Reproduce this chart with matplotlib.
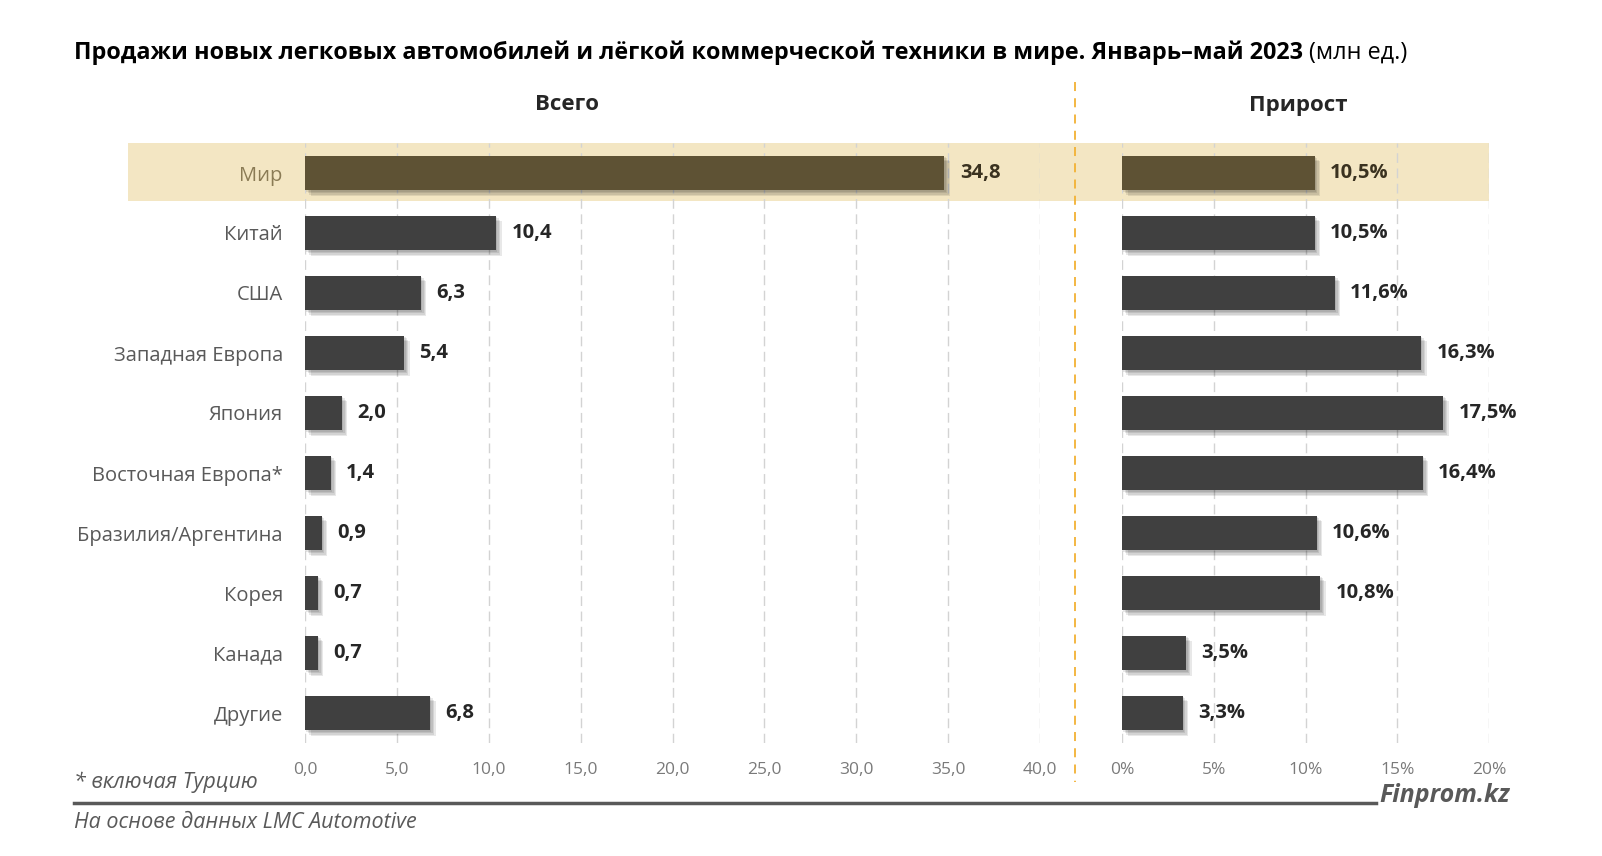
import matplotlib.pyplot as plt
from matplotlib.patches import Rectangle
import matplotlib.patheffects as pe

plt.rcParams['font.family'] = ['Open Sans', 'DejaVu Sans']

regions = ["Мир", "Китай", "США", "Западная Европа", "Япония",
           "Восточная Европа*", "Бразилия/Аргентина", "Корея", "Канада", "Другие"]
total = [34.8, 10.4, 6.3, 5.4, 2.0, 1.4, 0.9, 0.7, 0.7, 6.8]
growth = [10.5, 10.5, 11.6, 16.3, 17.5, 16.4, 10.6, 10.8, 3.5, 3.3]
total_ticks = [0, 5, 10, 15, 20, 25, 30, 35, 40]
growth_ticks = [0, 5, 10, 15, 20]

W, H = 1602, 856
fig = plt.figure(figsize=(W / 100, H / 100), dpi=100)
fig.patch.set_facecolor("white")


def fx(px):
    return px / W


def fy(py):
    return 1 - py / H


BAR = "#404040"
HL_BAR = "#5e5234"
HL_BG = "#f3e6c3"
GRAY = "#7a7a7a"
TXT = "#262626"

# axes in pixel coordinates (top 143, bottom 743)
ax1 = fig.add_axes([fx(305), fy(743), (1040 - 305) / W, 600 / H])
ax2 = fig.add_axes([fx(1122), fy(743), (1489 - 1122) / W, 600 / H])

# highlight band for the world row
fig.patches.append(Rectangle((fx(128), fy(201)), (1489 - 128) / W, 58 / H,
                             transform=fig.transFigure, facecolor=HL_BG,
                             edgecolor="none", zorder=-1))

# soft shadow under the bars
shadow = [pe.SimplePatchShadow(offset=(k, -k), shadow_rgbFace="black", alpha=0.09)
          for k in (1, 2, 3, 4)] + [pe.Normal()]

y = list(range(len(regions)))
colors = [HL_BAR] + [BAR] * (len(regions) - 1)

for ax, vals, ticks, xmax, fmt in [
    (ax1, total, total_ticks, 40, lambda v: f"{v:.1f}".replace(".", ",")),
    (ax2, growth, growth_ticks, 20, lambda v: f"{v:.1f}%".replace(".", ",")),
]:
    ax.set_facecolor("none")
    bars = ax.barh(y, vals, height=0.58, color=colors, zorder=3)
    for b in bars:
        b.set_path_effects(shadow)
    for i, v in enumerate(vals):
        ax.annotate(fmt(v), (v, i), xytext=(11, 0), textcoords="offset points",
                    va="center", ha="left", fontsize=14.5, fontweight="bold",
                    color="#3a3220" if i == 0 else TXT)
    ax.set_xlim(0, xmax)
    ax.set_ylim(len(regions) - 0.5, -0.5)
    ax.set_xticks(ticks)
    for t in ticks:
        ax.axvline(t, color="#d3d3d3", lw=1, ls=(0, (7, 4)), zorder=1)
    for s in ax.spines.values():
        s.set_visible(False)
    ax.tick_params(axis="x", length=0, pad=13.5, labelsize=12.5, labelcolor=GRAY)

ax1.set_xticklabels([f"{t:.1f}".replace(".", ",") for t in total_ticks])
ax2.set_xticklabels([f"{t}%" for t in growth_ticks])

ax1.set_yticks(y)
ax1.set_yticklabels(regions)
ax1.tick_params(axis="y", length=0, pad=16, labelsize=14.5, labelcolor="#595959")
ax1.get_yticklabels()[0].set_color("#8a7b55")
ax2.set_yticks([])

# divider
fig.add_artist(plt.Line2D([fx(1075), fx(1075)], [fy(82), fy(782)],
                          transform=fig.transFigure, color="#f2b134", lw=1.3,
                          ls=(0, (5, 4))))

# headers
fig.text(fx(567), fy(105), "Всего", ha="center", va="center",
         fontsize=16, fontweight="bold", color=TXT)
fig.text(fx(1298), fy(105), "Прирост", ha="center", va="center",
         fontsize=16, fontweight="bold", color=TXT)

# title
t1 = fig.text(fx(74), fy(53), "Продажи новых легковых автомобилей и лёгкой коммерческой "
              "техники в мире. Январь–май 2023", ha="left", va="center",
              fontsize=16.8, fontweight="bold", color="black")
fig.canvas.draw()
bb = t1.get_window_extent()
fig.text(bb.x1 / W + 0.004, fy(53), "(млн ед.)", ha="left", va="center",
         fontsize=16.8, color="black")

# footer
fig.text(fx(74), fy(782), "* включая Турцию", ha="left", va="center",
         fontsize=15.5, style="italic", color="#595959")
fig.add_artist(plt.Line2D([fx(74), fx(1376)], [fy(803), fy(803)],
                          transform=fig.transFigure, color="#595959", lw=2.5))
fig.text(fx(1379), fy(796), "Finprom.kz", ha="left", va="center",
         fontsize=18, style="italic", fontweight="bold", color="#595959")
fig.text(fx(74), fy(823), "На основе данных LMC Automotive", ha="left", va="center",
         fontsize=15.5, style="italic", color="#595959")

fig.savefig("out.png", dpi=100, facecolor="white")
